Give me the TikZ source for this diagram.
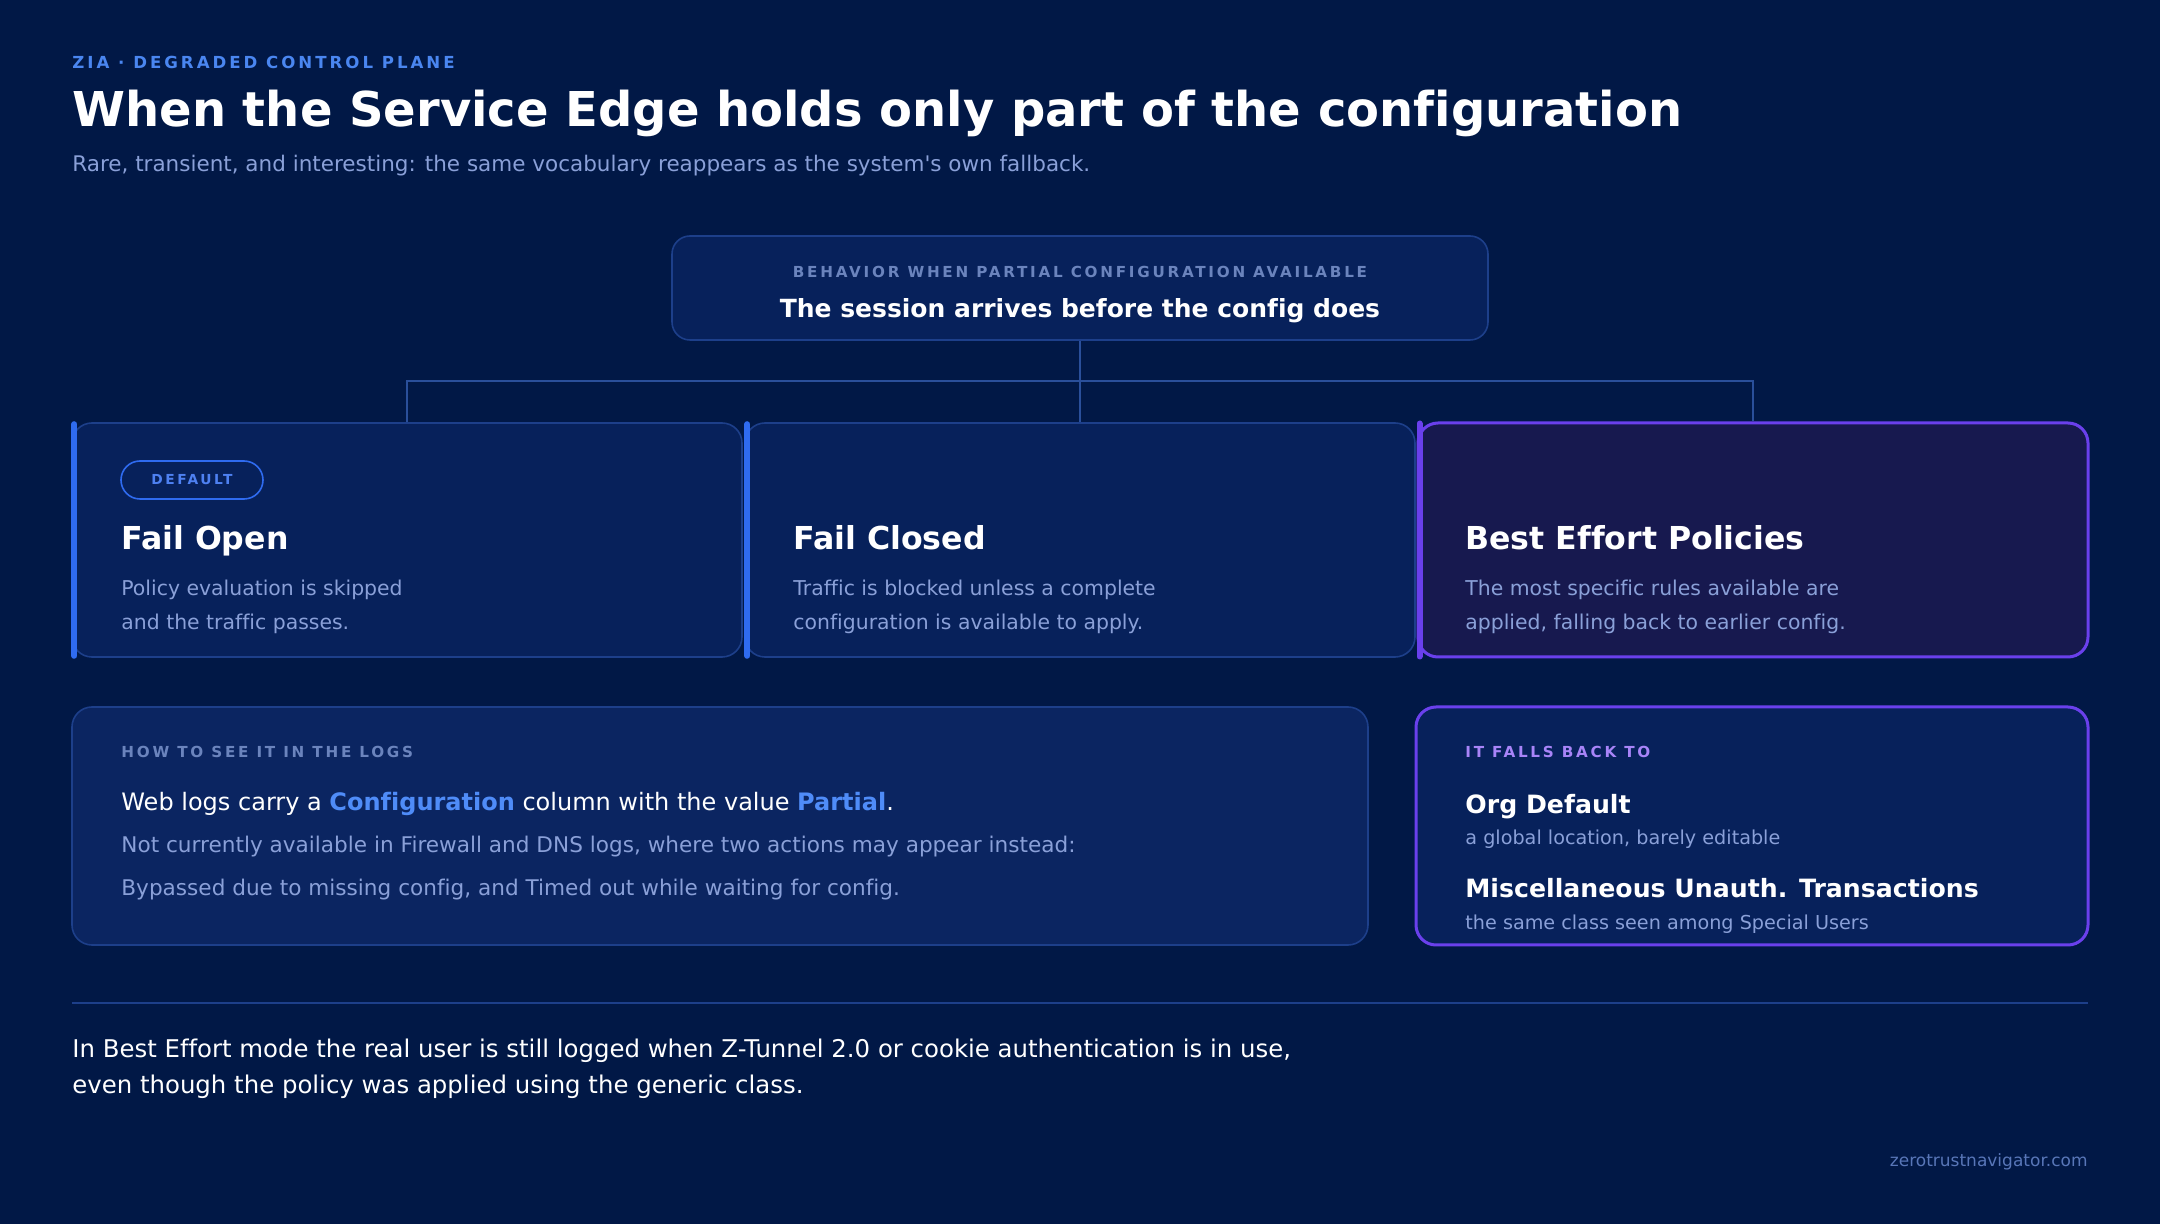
\documentclass[tikz,border=0pt]{standalone}
\usepackage{fontspec}
\setmainfont{DejaVu Sans}[Ligatures={NoCommon,TeXOff}]
\newfontfamily\capsfont{DejaVu Sans}[LetterSpace=18,Ligatures={NoCommon,TeXOff}]
\usepackage{xcolor}
\usetikzlibrary{positioning,calc}
\definecolor{bgnavy}{HTML}{011846}
\definecolor{cardfill}{HTML}{07215B}
\definecolor{cardline}{HTML}{1D3F8A}
\definecolor{purplefill}{HTML}{17194F}
\definecolor{purpleline}{HTML}{6A40EC}
\definecolor{logfill}{HTML}{0B2561}
\definecolor{accentblue}{HTML}{2F6BF0}
\definecolor{linkline}{HTML}{2A4F9A}
\definecolor{kicker}{HTML}{4A86F0}
\definecolor{muted}{HTML}{8AA0D8}
\definecolor{eyebrowgray}{HTML}{6B84BD}
\definecolor{lavender}{HTML}{A884F8}
\definecolor{hilite}{HTML}{4F8CF8}
\definecolor{sitegray}{HTML}{5876B8}
\newcommand{\setfs}[1]{\fontsize{#1}{1.2\dimexpr#1\relax}\selectfont}
\tikzset{
  txt/.style={anchor=base west,inner sep=0pt},
  eyebrow/.style={txt,font=\capsfont\bfseries\setfs{7.6pt}},
  card/.style={draw=cardline,fill=cardfill,rounded corners=10pt,line width=0.8pt,minimum width=335pt,minimum height=117pt,inner sep=0pt},
  cardtitle/.style={txt,text=white,font=\bfseries\setfs{15.8pt}},
  carddesc/.style={txt,text=muted,font=\setfs{10.2pt}},
  accentbar/.style={line width=3pt,line cap=round},
  link/.style={draw=linkline,line width=1pt}
}
\begin{document}
\begin{tikzpicture}[x=0.5pt,y=-0.5pt]
  \fill[bgnavy] (0,0) rectangle (2160,1224);
  \useasboundingbox (0,0) rectangle (2160,1224);
  % heading
  \node[eyebrow,text=kicker,font=\capsfont\bfseries\setfs{8.3pt}] (kick) at (72,69) {ZIA · DEGRADED CONTROL PLANE};
  \node[txt,text=white,font=\bfseries\setfs{24pt}] (title) at (72,127) {When the Service Edge holds only part of the configuration};
  \node[txt,text=muted,font=\setfs{10.75pt}] (sub) at (72,172) {Rare, transient, and interesting: the same vocabulary reappears as the system's own fallback.};
  % root box
  \node[draw=cardline,fill=cardfill,rounded corners=9pt,line width=0.8pt,minimum width=408pt,minimum height=52pt] (root) at (1080,288) {};
  \node[eyebrow,anchor=base,text=eyebrowgray] (rootlbl) at (1080,278) {BEHAVIOR WHEN PARTIAL CONFIGURATION AVAILABLE};
  \node[txt,anchor=base,text=white,font=\bfseries\setfs{12.5pt}] (roottxt) at (1080,318) {The session arrives before the config does};
  % three outcomes
  \node[card] (open) at (407,540) {};
  \node[card] (closed) at (1080,540) {};
  \node[card,fill=purplefill,draw=purpleline,line width=1.5pt] (effort) at (1753,540) {};
  \draw[accentbar,accentblue] ([xshift=1.5pt,yshift=-1pt]open.north west) -- ([xshift=1.5pt,yshift=1pt]open.south west);
  \draw[accentbar,accentblue] ([xshift=1.5pt,yshift=-1pt]closed.north west) -- ([xshift=1.5pt,yshift=1pt]closed.south west);
  \draw[accentbar,purpleline] ([xshift=1.5pt,yshift=-1pt]effort.north west) -- ([xshift=1.5pt,yshift=1pt]effort.south west);
  \coordinate (bus) at (1080,381);
  \draw[link] (root.south) -- (bus);
  \draw[link] (open.north) |- (bus) -| (effort.north);
  \draw[link] (bus) -- (closed.north);
  \node[draw=accentblue,line width=0.8pt,rounded corners=9.5pt,minimum width=71pt,minimum height=19pt,inner sep=0pt,text=accentblue!85!white,font=\capsfont\bfseries\setfs{6.9pt}] (tag) at (192,480) {DEFAULT};
  \node[cardtitle] (opent) at (121,550) {Fail Open};
  \node[carddesc] (opend1) at (121,596) {Policy evaluation is skipped};
  \node[carddesc] (opend2) at (121,630) {and the traffic passes.};
  \node[cardtitle] (closedt) at (793,550) {Fail Closed};
  \node[carddesc] (closedd1) at (793,596) {Traffic is blocked unless a complete};
  \node[carddesc] (closedd2) at (793,630) {configuration is available to apply.};
  \node[cardtitle] (effortt) at (1465,550) {Best Effort Policies};
  \node[carddesc] (effortd1) at (1465,596) {The most specific rules available are};
  \node[carddesc] (effortd2) at (1465,630) {applied, falling back to earlier config.};
  % logs and fallback
  \node[card,fill=logfill,minimum width=648pt,minimum height=119pt] (logs) at (720,826) {};
  \node[eyebrow,text=eyebrowgray] (logslbl) at (121,758) {HOW TO SEE IT IN THE LOGS};
  \node[txt,text=white,font=\setfs{12pt}] (logs1) at (121,811) {Web logs carry a \textcolor{hilite}{\bfseries Configuration} column with the value \textcolor{hilite}{\bfseries Partial}.};
  \node[txt,text=muted,font=\setfs{10.8pt}] (logs2) at (121,853) {Not currently available in Firewall and DNS logs, where two actions may appear instead:};
  \node[txt,text=muted,font=\setfs{10.8pt}] (logs3) at (121,896) {Bypassed due to missing config, and Timed out while waiting for config.};
  \node[card,draw=purpleline,line width=1.5pt,minimum width=336pt,minimum height=119pt] (back) at (1752,826) {};
  \node[eyebrow,text=lavender] (backlbl) at (1465,758) {IT FALLS BACK TO};
  \node[txt,text=white,font=\bfseries\setfs{12.6pt}] (org) at (1465,814) {Org Default};
  \node[txt,text=muted,font=\setfs{9.6pt}] (orgd) at (1465,845) {a global location, barely editable};
  \node[txt,text=white,font=\bfseries\setfs{12.6pt}] (misc) at (1465,898) {Miscellaneous Unauth. Transactions};
  \node[txt,text=muted,font=\setfs{9.6pt}] (miscd) at (1465,929) {the same class seen among Special Users};
  % footer
  \draw[cardline,line width=1pt] (72,1003) -- (2088,1003);
  \node[txt,text=white,font=\setfs{12.2pt}] (note1) at (72,1057) {In Best Effort mode the real user is still logged when Z-Tunnel 2.0 or cookie authentication is in use,};
  \node[txt,text=white,font=\setfs{12.2pt}] (note2) at (72,1093) {even though the policy was applied using the generic class.};
  \node[txt,anchor=base east,text=sitegray,font=\setfs{8.5pt}] (site) at (2088,1166) {zerotrustnavigator.com};
\end{tikzpicture}
\end{document}
